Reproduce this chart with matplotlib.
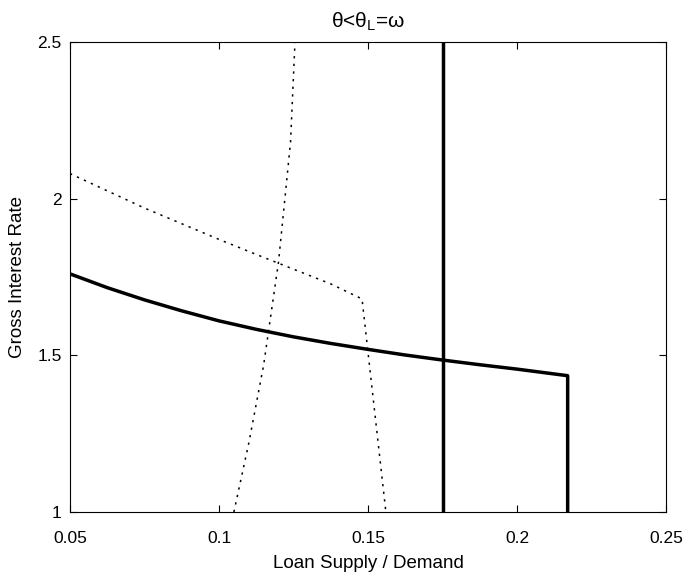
import numpy as np
import matplotlib
matplotlib.use("Agg")
import matplotlib.pyplot as plt

plt.rcParams['font.family'] = ['Liberation Sans', 'DejaVu Sans']
plt.rcParams['mathtext.default'] = 'regular'

# solid supply curve (ends with a vertical drop)
supply_x = [0.05, 0.0625, 0.075, 0.0875, 0.1, 0.1125, 0.125, 0.1375, 0.15,
            0.1625, 0.175, 0.1875, 0.2, 0.217, 0.217]
supply_y = [1.76, 1.716, 1.677, 1.642, 1.61, 1.583, 1.559, 1.538, 1.519,
            1.501, 1.485, 1.47, 1.456, 1.435, 1.0]

# solid vertical demand
demand_x = [0.175, 0.175]
demand_y = [1.0, 2.5]

# dotted curves
dot1_x = [0.05, 0.0625, 0.075, 0.0875, 0.1, 0.1125, 0.125, 0.1375, 0.148, 0.156]
dot1_y = [2.08, 2.025, 1.97, 1.92, 1.87, 1.822, 1.775, 1.728, 1.68, 1.0]
dot2_x = [0.105, 0.11, 0.115, 0.12, 0.124, 0.1255]
dot2_y = [1.0, 1.22, 1.47, 1.8, 2.18, 2.5]

fig = plt.figure(figsize=(6.84, 5.8), dpi=100)
ax = fig.add_axes([70/684, 1 - 512/580, 596/684, 470/580])

dots = (0, (1.5, 3.5))
ax.plot(supply_x, supply_y, color='black', lw=2.5)
ax.plot(demand_x, demand_y, color='black', lw=2.5)
ax.plot(dot1_x, dot1_y, color='black', lw=1.1, ls=dots)
ax.plot(dot2_x, dot2_y, color='black', lw=1.1, ls=dots)

ax.set_xlim(0.05, 0.25)
ax.set_ylim(1, 2.5)
ax.set_xticks([0.05, 0.1, 0.15, 0.2, 0.25])
ax.set_xticklabels(['0.05', '0.1', '0.15', '0.2', '0.25'])
ax.set_yticks([1, 1.5, 2, 2.5])
ax.set_yticklabels(['1', '1.5', '2', '2.5'])
ax.tick_params(direction='in', top=True, right=True, labelsize=12.5, length=5)
ax.tick_params(axis='x', pad=14)
ax.tick_params(axis='y', pad=6)

ax.set_xlabel('Loan Supply / Demand', fontsize=13.5, labelpad=6)
ax.set_ylabel('Gross Interest Rate', fontsize=13.5, labelpad=8)
ax.set_title('θ<θ$_{L}$=ω', fontsize=15, pad=10)

fig.savefig('out.png', dpi=100)
